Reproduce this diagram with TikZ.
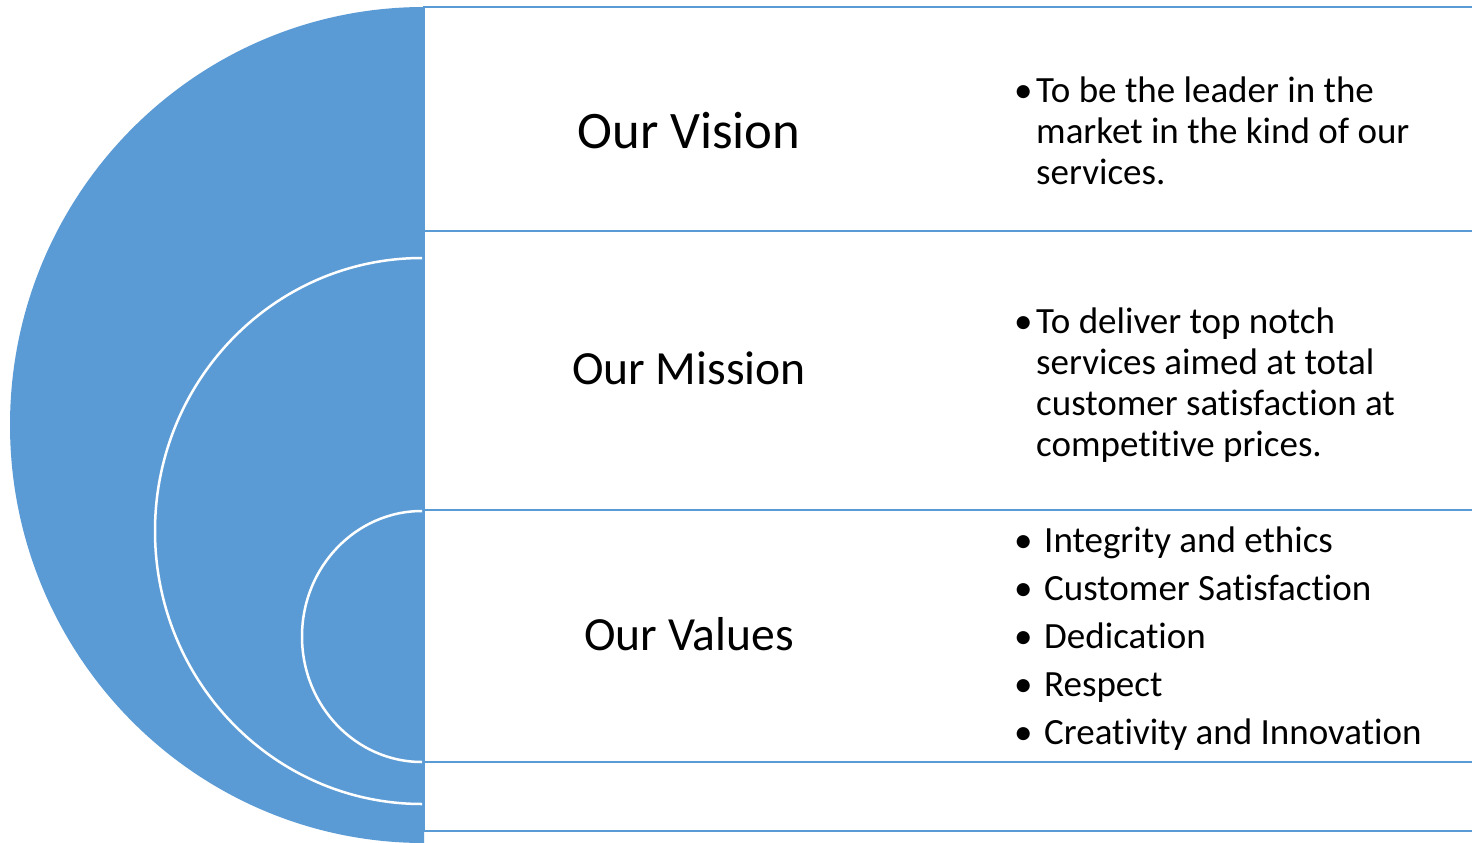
\documentclass[tikz,border=0pt]{standalone}
\usepackage{fontspec}
\setmainfont{Carlito}[RawFeature={-liga;-clig;-dlig;-calt;-rlig}]
\usepackage{tikz}
\usepackage{xcolor}
\usetikzlibrary{positioning}
\definecolor{officeblue}{rgb}{0.357, 0.608, 0.835}
\tikzset{panel/.style={draw=officeblue, line width=2.3pt}}
\tikzset{ring/.style={draw=white, line width=2.5pt}}
\tikzset{heading/.style={inner sep=0pt, anchor=base, font=\fontsize{47.6}{56}\selectfont}}
\tikzset{bigheading/.style={heading, font=\fontsize{52.7}{62}\selectfont}}
\tikzset{btext/.style={inner sep=0pt, anchor=base west, font=\fontsize{37}{41}\selectfont}}
\tikzset{bdot/.style={btext}}

\begin{document}
\begin{tikzpicture}[x=1pt, y=-1pt]
        \clip (0, 0) rectangle (1472, 843);
        \fill [white] (0, 0) rectangle (1472, 843);

        \fill [officeblue] (424, 7) arc [start angle=270, end angle=90, x radius=414, y radius=418] -- cycle;
        \draw [ring] (422, 258) arc [start angle=270, end angle=90, x radius=267, y radius=273];
        \draw [ring] (422, 511) arc [start angle=270, end angle=90, x radius=120, y radius=125.5];

        \draw [panel] (424, 7) rectangle (1480, 231);
        \draw [panel] (424, 231) rectangle (1480, 510);
        \draw [panel] (424, 510) rectangle (1480, 762);
        \draw [panel] (424, 762) rectangle (1480, 831);

        \node [bigheading] (Hvision)  at (689, 148) { Our Vision };
        \node [heading]    (Hmission) at (689, 384) { Our Mission };
        \node [heading]    (Hvalues)  at (689, 650) { Our Values };

        \node [bdot] (Dvision) at (1014, 102) { \textbullet };
        \foreach \txt [count=\i from 0] in {To be the leader in the, market in the kind of our, services.}
            \node [btext] (Vis\i) at (1036, 102+41*\i) { \txt };

        \node [bdot] (Dmission) at (1014, 333) { \textbullet };
        \foreach \txt [count=\i from 0] in {To deliver top notch, services aimed at total, customer satisfaction at, competitive prices.}
            \node [btext] (Mis\i) at (1036, 333+41*\i) { \txt };

        \foreach \txt [count=\i from 0] in {Integrity and ethics, Customer Satisfaction, Dedication, Respect, Creativity and Innovation} {
            \node [bdot]  (Dval\i) at (1014, 552+48*\i) { \textbullet };
            \node [btext] (Val\i)  at (1044, 552+48*\i) { \txt };
        }
    \end{tikzpicture}
\end{document}
